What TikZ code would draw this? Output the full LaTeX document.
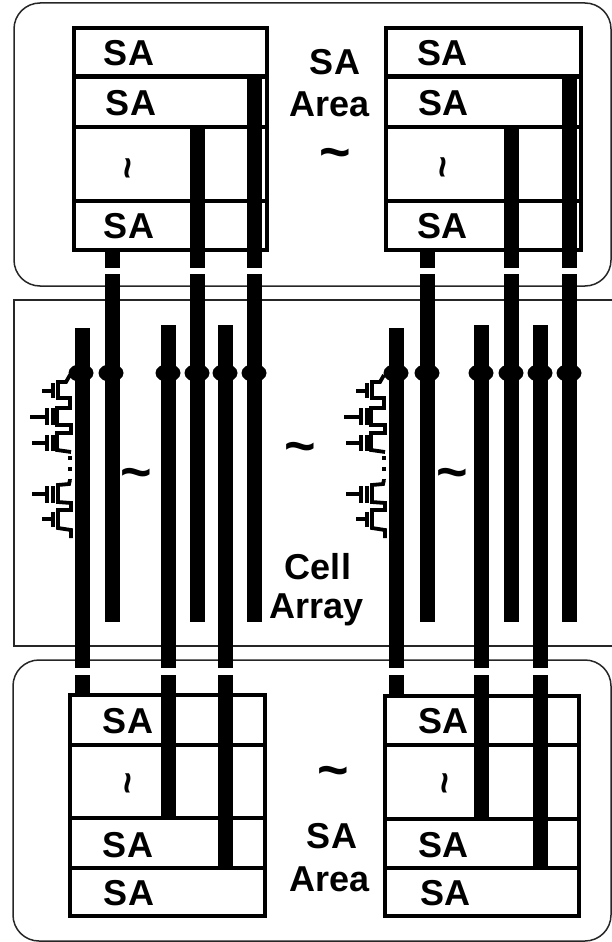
\documentclass[tikz,border=0pt]{standalone}
\usepackage{fontspec}
\setmainfont{Liberation Sans}
\usetikzlibrary{shapes.geometric}
\begin{document}
\begin{tikzpicture}[x=1pt, y=-1pt,
	outline/.style={line width=1.5pt, black!85},
	rowline/.style={line width=4.5pt, black},
	bitline/.style={line width=15pt, black},
	vertex/.style={ellipse, fill, minimum width=25pt, minimum height=18pt, inner sep=0pt, outer sep=0pt},
	salabel/.style={font=\bfseries\fontsize{36}{36}\selectfont, inner sep=0pt},
	wave/.style={font=\bfseries\fontsize{54}{54}\selectfont, inner sep=0pt},
	smallwave/.style={font=\bfseries\fontsize{38}{38}\selectfont, inner sep=0pt, rotate=90},
	cellwire/.style={line width=3.8pt, black},
	cellplate/.style={line width=4pt, black},
	cells/.pic={
		% meander of the cell chain
		\draw[cellwire] (70,375)--(66,382)--(58,382)--(58,398)--(70,398)--(70,408)--(57,408)--(57,425)--(71,425)--(71,433)--(57,433)--(57,450)--(71,452);
		\draw[cellwire] (70,480)--(69,484)--(58,485)--(58,502)--(71,503)--(71,510)--(58,510)--(58,528)--(71,530)--(71,538);
		\draw[line width=3.8pt, dash pattern=on 3.8pt off 7.5pt, black] (70,456)--(70,480);
		% gates
		\draw[cellplate] (53,383)--(53,398) (42,391)--(51,391);
		\draw[cellplate] (47,408)--(47,425) (53,408)--(53,425) (30,417)--(45,417);
		\draw[cellplate] (47,435)--(47,451) (53,435)--(53,451) (32,443)--(45,443);
		\draw[cellplate] (47,486)--(47,503) (53,486)--(53,503) (32,494)--(45,494);
		\draw[cellplate] (53,512)--(53,527) (42,519)--(51,519);
	}]
\useasboundingbox (0,0) rectangle (611,942);
% three areas
\draw[outline, rounded corners=26pt] (14,3) rectangle (611,286);
\draw[outline] (14,300) rectangle (614,646);
\draw[outline, rounded corners=26pt] (13,660) rectangle (611,941);
% sense amplifier stacks
\draw[rowline] (74,28) rectangle (267,250);
\draw[rowline] (74,76.5)--(267,76.5) (74,127)--(267,127) (74,201)--(267,201);
\draw[rowline] (386,28) rectangle (581,250);
\draw[rowline] (386,76.5)--(581,76.5) (386,127)--(581,127) (386,201)--(581,201);
\draw[rowline] (70,695) rectangle (265,916);
\draw[rowline] (70,745)--(265,745) (70,818)--(265,818) (70,868)--(265,868);
\draw[rowline] (385,696) rectangle (579,916);
\draw[rowline] (385,745)--(579,745) (385,819)--(579,819) (385,868)--(579,868);
% bit lines, top left
\coordinate (t1) at (112,250);
\coordinate (t2) at (197,127);
\coordinate (t3) at (254,76);
\coordinate (t1a) at (112,268);
\coordinate (t2a) at (197,268);
\coordinate (t3a) at (254,268);
\coordinate (t1b) at (112,274);
\coordinate (t2b) at (197,274);
\coordinate (t3b) at (254,274);
\coordinate (t1c) at (112,622);
\coordinate (t2c) at (197,622);
\coordinate (t3c) at (254,622);
\draw[bitline] (t1)--(t1a) (t2)--(t2a) (t3)--(t3a);
\draw[bitline] (t1b)--(t1c) (t2b)--(t2c) (t3b)--(t3c);
% bit lines, top right
\coordinate (u1) at (427,250);
\coordinate (u2) at (511,127);
\coordinate (u3) at (569,76);
\coordinate (u1a) at (427,268);
\coordinate (u2a) at (511,268);
\coordinate (u3a) at (569,268);
\coordinate (u1b) at (427,274);
\coordinate (u2b) at (511,274);
\coordinate (u3b) at (569,274);
\coordinate (u1c) at (427,622);
\coordinate (u2c) at (511,622);
\coordinate (u3c) at (569,622);
\draw[bitline] (u1)--(u1a) (u2)--(u2a) (u3)--(u3a);
\draw[bitline] (u1b)--(u1c) (u2b)--(u2c) (u3b)--(u3c);
% bit lines, bottom left
\coordinate (b1) at (82,328);
\coordinate (b2) at (168,325);
\coordinate (b3) at (225,325);
\coordinate (b1a) at (82,668);
\coordinate (b2a) at (168,668);
\coordinate (b3a) at (225,668);
\coordinate (b1b) at (82,675);
\coordinate (b2b) at (168,675);
\coordinate (b3b) at (225,675);
\coordinate (b1c) at (82,697);
\coordinate (b2c) at (168,818);
\coordinate (b3c) at (225,868);
\draw[bitline] (b1)--(b1a) (b2)--(b2a) (b3)--(b3a);
\draw[bitline] (b1b)--(b1c) (b2b)--(b2c) (b3b)--(b3c);
% bit lines, bottom right
\coordinate (c1) at (396,328);
\coordinate (c2) at (481,325);
\coordinate (c3) at (540,325);
\coordinate (c1a) at (396,668);
\coordinate (c2a) at (481,668);
\coordinate (c3a) at (540,668);
\coordinate (c1b) at (396,675);
\coordinate (c2b) at (481,675);
\coordinate (c3b) at (540,675);
\coordinate (c1c) at (396,697);
\coordinate (c2c) at (481,818);
\coordinate (c3c) at (540,870);
\draw[bitline] (c1)--(c1a) (c2)--(c2a) (c3)--(c3a);
\draw[bitline] (c1b)--(c1c) (c2b)--(c2c) (c3b)--(c3c);
% contacts
\node[vertex] at (81,373) (v1) {};
\node[vertex] at (111,373) (v2) {};
\node[vertex] at (168,373) (v3) {};
\node[vertex] at (197,373) (v4) {};
\node[vertex] at (225,373) (v5) {};
\node[vertex] at (254,373) (v6) {};
\node[vertex] at (396,373) (v7) {};
\node[vertex] at (427,373) (v8) {};
\node[vertex] at (481,373) (v9) {};
\node[vertex] at (511,373) (v10) {};
\node[vertex] at (540,373) (v11) {};
\node[vertex] at (569,373) (v12) {};
% memory cells
\pic at (0,0) {cells};
\pic at (314,0) {cells};
% labels
\node[salabel] at (129,53) (sa1) {SA};
\node[salabel] at (131,103) (sa2) {SA};
\node[smallwave] at (133,168) (w1) {\textasciitilde};
\node[salabel] at (129,226) (sa3) {SA};
\node[salabel] at (442,53) (sa4) {SA};
\node[salabel] at (443,103) (sa5) {SA};
\node[smallwave] at (448,167) (w2) {\textasciitilde};
\node[salabel] at (442,226) (sa6) {SA};
\node[salabel] at (128,721) (sa7) {SA};
\node[smallwave] at (133,783) (w3) {\textasciitilde};
\node[salabel] at (128,845) (sa8) {SA};
\node[salabel] at (129,893) (sa9) {SA};
\node[salabel] at (443,721) (sa10) {SA};
\node[smallwave] at (450,783) (w4) {\textasciitilde};
\node[salabel] at (443,845) (sa11) {SA};
\node[salabel] at (445,893) (sa12) {SA};
\node[salabel] at (335,62) (l1) {SA};
\node[salabel] at (330,104) (l2) {Area};
\node[wave] at (335,159) (w5) {\textasciitilde};
\node[wave] at (300,453) (w6) {\textasciitilde};
\node[wave] at (136,479) (w7) {\textasciitilde};
\node[wave] at (452,479) (w8) {\textasciitilde};
\node[salabel] at (318,567) (l3) {Cell};
\node[salabel] at (317,610) (l4) {Array};
\node[wave] at (333,777) (w9) {\textasciitilde};
\node[salabel] at (332,836) (l5) {SA};
\node[salabel] at (330,879) (l6) {Area};
\end{tikzpicture}
\end{document}
